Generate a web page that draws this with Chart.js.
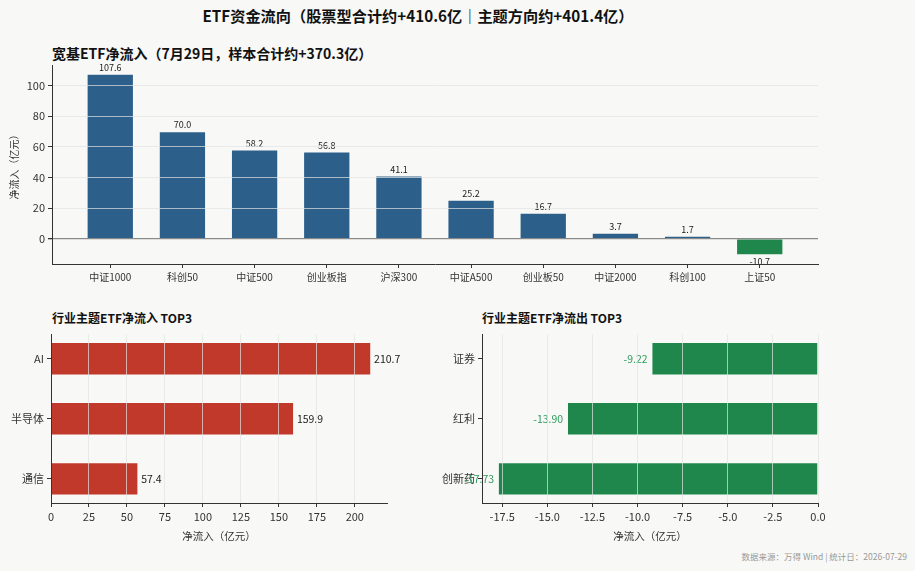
<!DOCTYPE html>
<html>
<head>
<meta charset="utf-8">
<script src="https://cdn.jsdelivr.net/npm/chart.js@4.4.1/dist/chart.umd.min.js"></script>
<style>
body { margin: 0; background: #f8f8f6; font-family: "Noto Sans CJK SC", sans-serif; }
#wrap { position: relative; width: 915px; height: 571px; overflow: hidden; }
.t { position: absolute; color: #111; font-weight: bold; white-space: nowrap; line-height: 1; }
canvas { position: absolute; }
</style>
</head>
<body>
<div id="wrap">
  <div class="t" style="left:0;width:836px;top:8px;text-align:center;font-size:15.2px;">ETF资金流向（股票型合计约+410.6亿｜主题方向约+401.4亿）</div>
  <div class="t" style="left:52px;top:46px;font-size:14px;">宽基ETF净流入（7月29日，样本合计约+370.3亿）</div>
  <div class="t" style="left:52px;top:312px;font-size:12px;">行业主题ETF净流入 TOP3</div>
  <div class="t" style="left:482px;top:312px;font-size:12px;">行业主题ETF净流出 TOP3</div>
  <div style="position:absolute;right:8px;top:552px;font-size:8.5px;color:#999;line-height:1;white-space:nowrap;">数据来源：万得 Wind | 统计日：2026-07-29</div>
  <canvas id="broad" width="830" height="239" style="left:0;top:55px;"></canvas>
  <canvas id="inflow" width="417" height="217" style="left:0;top:325px;"></canvas>
  <canvas id="outflow" width="413" height="217" style="left:420px;top:325px;"></canvas>
</div>
<script>
// 宽基ETF（7月29日，亿元）
const broadCats = ['中证1000', '科创50', '中证500', '创业板指', '沪深300', '中证A500', '创业板50', '中证2000', '科创100', '上证50'];
const broadFlow = [107.6, 70.0, 58.2, 56.8, 41.1, 25.2, 16.7, 3.7, 1.7, -10.7];
const broadTicks = [0, 20, 40, 60, 80, 100];

// 行业主题 净流入 / 净流出 TOP3
const inCats = ['AI', '半导体', '通信'];
const inFlow = [210.7, 159.9, 57.4];
const outCats = ['证券', '红利', '创新药'];
const outFlow = [-9.22, -13.90, -17.73];

const BLUE = '#2d5f8b';
const GREEN = '#1f874c';
const RED = '#c0392b';
const FONT = '"Noto Sans CJK SC", sans-serif';
Chart.defaults.font.family = FONT;
Chart.defaults.color = '#333';

function valueLabels(fmt, color, size) {
  return {
    id: 'valueLabels',
    afterDatasetsDraw(chart) {
      const ctx = chart.ctx;
      const meta = chart.getDatasetMeta(0);
      const horiz = chart.options.indexAxis === 'y';
      ctx.save();
      ctx.font = size + 'px ' + FONT;
      ctx.fillStyle = color;
      meta.data.forEach((bar, i) => {
        const d = chart.data.datasets[0].data[i];
        const val = horiz ? d.x : d.y;
        const text = fmt(val);
        if (horiz) {
          ctx.textBaseline = 'middle';
          ctx.textAlign = val >= 0 ? 'left' : 'right';
          ctx.fillText(text, bar.x + (val >= 0 ? 3 : -4), bar.y);
        } else {
          ctx.textAlign = 'center';
          ctx.textBaseline = val >= 0 ? 'bottom' : 'top';
          ctx.fillText(text, bar.x, bar.y + (val >= 0 ? -2 : 2));
        }
      });
      ctx.restore();
    }
  };
}

const gridOver = 'rgba(226,226,226,0.7)';

new Chart(document.getElementById('broad'), {
  type: 'bar',
  data: {
    datasets: [{
      data: broadFlow.map((v, i) => ({ x: i, y: v })),
      backgroundColor: broadFlow.map(v => v >= 0 ? BLUE : GREEN),
      borderColor: 'rgba(255,255,255,0.3)',
      borderWidth: 0.8,
      categoryPercentage: 1,
      barPercentage: 0.65
    }]
  },
  options: {
    responsive: false,
    animation: false,
    layout: { padding: { top: 10, right: 12, left: 0, bottom: 0 } },
    plugins: { legend: { display: false }, tooltip: { enabled: false } },
    scales: {
      x: {
        type: 'linear', min: -0.8075, max: 9.8075, offset: false,
        afterFit: s => { s.height = 30; },
        grid: { drawOnChartArea: false, offset: false, tickLength: 4, tickColor: '#333' },
        border: { color: '#333', width: 1, z: 2 },
        ticks: { stepSize: 1, autoSkip: false, includeBounds: false, maxRotation: 0, font: { size: 10 },
                 callback: v => broadCats[v] }
      },
      y: {
        min: -16.6, max: 113.5,
        afterFit: s => { s.width = 52; },
        grid: {
          z: 1,
          color: c => c.tick && c.tick.value === 0 ? '#8a8a8a' : gridOver,
          lineWidth: c => c.tick && c.tick.value === 0 ? 1.3 : 1,
          tickLength: 4, tickColor: '#333'
        },
        border: { color: '#333', width: 1, z: 2 },
        afterBuildTicks: s => { s.ticks = broadTicks.map(v => ({ value: v })); },
        ticks: { font: { size: 11 } },
        title: { display: true, text: '净流入（亿元）', font: { size: 10 }, padding: { top: 8, bottom: 0 } }
      }
    }
  },
  plugins: [valueLabels(v => v.toFixed(1), '#222', 9)]
});

function hbar(id, cats, vals, color, xmin, xmax, step, yWidth, pad, fmt, labColor, tickFmt) {
  return new Chart(document.getElementById(id), {
    type: 'bar',
    data: {
      datasets: [{
        data: vals.map((v, i) => ({ x: v, y: i })),
        backgroundColor: color,
        borderColor: 'rgba(255,255,255,0.3)',
        borderWidth: 0.8,
        categoryPercentage: 1,
        barPercentage: 0.55
      }]
    },
    options: {
      indexAxis: 'y',
      responsive: false,
      animation: false,
      layout: { padding: { top: 5, right: pad, left: 0, bottom: 0 } },
      plugins: { legend: { display: false }, tooltip: { enabled: false } },
      scales: {
        x: {
          type: 'linear', min: xmin, max: xmax,
          afterFit: s => { s.height = 39; },
          grid: {
            z: 1,
            color: c => c.tick && c.tick.value === xmin ? 'rgba(0,0,0,0)' : gridOver,
            tickLength: 4, tickColor: '#333'
          },
          border: { color: '#333', width: 1, z: 2 },
          ticks: { stepSize: step, includeBounds: false, maxRotation: 0, font: { size: 11 }, callback: tickFmt },
          title: { display: true, text: '净流入（亿元）', font: { size: 10.5 }, padding: { top: 2, bottom: 0 } }
        },
        y: {
          type: 'linear', reverse: true, min: -0.4025, max: 2.4025, offset: false,
          afterFit: s => { s.width = yWidth; },
          grid: { drawOnChartArea: false, offset: false, tickLength: 4, tickColor: '#333' },
          border: { color: '#333', width: 1, z: 2 },
          ticks: { stepSize: 1, includeBounds: false, font: { size: 11 }, callback: v => cats[v] }
        }
      }
    },
    plugins: [valueLabels(fmt, labColor, 10.5)]
  });
}

hbar('inflow', inCats, inFlow, RED, 0, 221.2, 25, 51, 30, v => v.toFixed(1), '#222', v => v);
hbar('outflow', outCats, outFlow, GREEN, -18.62, 0, 2.5, 62, 15, v => v.toFixed(2), '#2e9a5c', v => v.toFixed(1));
</script>
</body>
</html>
